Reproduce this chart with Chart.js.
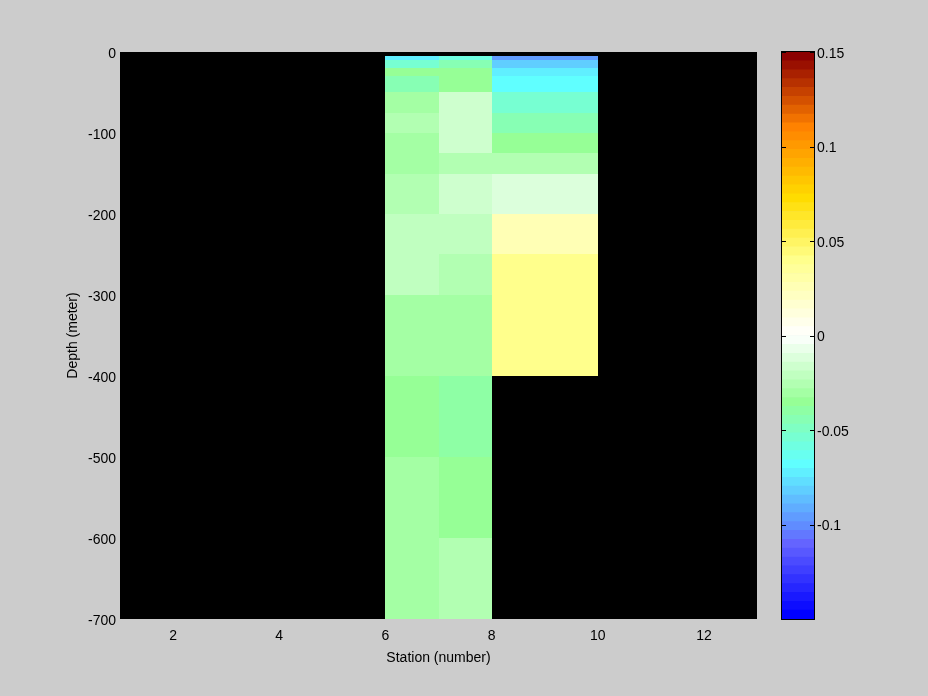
<!DOCTYPE html>
<html><head><meta charset="utf-8">
<script src="https://cdn.jsdelivr.net/npm/chart.js@4.4.1/dist/chart.umd.min.js"></script>
<style>
html,body{margin:0;padding:0;background:#cccccc;width:928px;height:696px;overflow:hidden}
#w1{position:absolute;left:0;top:0;width:770px;height:696px}
#w2{position:absolute;left:770px;top:0;width:158px;height:696px}
</style></head><body>
<div id="w1"><canvas id="c1"></canvas></div>
<div id="w2"><canvas id="c2"></canvas></div>
<script>
// ---- data ----
const stationEdges = [6, 7, 8, 10];                 // column boundaries (station number)
const depthEdges = [-5, -10, -20, -30, -50, -75, -100, -125, -150, -200, -250, -300, -400, -500, -600, -700];
// value per depth bin (15 bins, top to bottom) for each column
const colStation6to7 = [-0.074, -0.054, -0.035, -0.0445, -0.030, -0.026, -0.030, -0.031, -0.026, -0.021, -0.021, -0.030, -0.035, -0.031, -0.031];
const colStation7to8 = [-0.058, -0.0445, -0.035, -0.035, -0.016, -0.016, -0.016, -0.026, -0.016, -0.021, -0.026, -0.030, -0.041, -0.035, -0.026];
const colStation8to10 = [-0.096, -0.080, -0.0727, -0.068, -0.054, -0.043, -0.035, -0.026, -0.012, 0.0258, 0.040, 0.040, null, null, null];
const xTicks = [2, 4, 6, 8, 10, 12];
const yTicks = [0, -100, -200, -300, -400, -500, -600, -700];
const cbTicks = [0.15, 0.1, 0.05, 0, -0.05, -0.1];
const cbTickLabels = ['0.15', '0.1', '0.05', '0', '-0.05', '-0.1'];
const cRange = [-0.15, 0.15];
// colormap anchors (band index 0 = bottom, 63 = top)
const cmapIdx = [0, 8, 10, 17, 24, 31.5, 40, 47, 55, 63];
const cmapRGB = [[0,0,255],[100,100,255],[96,140,255],[96,255,255],[150,255,150],[255,255,255],[255,255,140],[255,220,0],[255,130,0],[140,0,0]];
const nColors = 64;

const columns = [colStation6to7, colStation7to8, colStation8to10];

function buildCmap() {
  const out = [];
  for (let i = 0; i < nColors; i++) {
    let k = 0;
    while (k < cmapIdx.length - 2 && i > cmapIdx[k + 1]) k++;
    const t = Math.max(0, Math.min(1, (i - cmapIdx[k]) / (cmapIdx[k + 1] - cmapIdx[k])));
    const a = cmapRGB[k], b = cmapRGB[k + 1];
    const c = a.map((v, j) => Math.round(v + (b[j] - v) * t));
    out.push('rgb(' + c.join(',') + ')');
  }
  return out;
}
const cmap = buildCmap();
function colorFor(v) {
  let i = Math.floor((v - cRange[0]) / (cRange[1] - cRange[0]) * nColors);
  i = Math.max(0, Math.min(nColors - 1, i));
  return cmap[i];
}

const FONT = {family: 'Liberation Sans, Arial, sans-serif', size: 14};
Chart.defaults.color = '#000';
Chart.defaults.font = FONT;

const cellPlugin = {
  id: 'cells',
  beforeDatasetsDraw(chart) {
    const {ctx, chartArea: a, scales: {x, y}} = chart;
    ctx.save();
    ctx.fillStyle = '#000';
    ctx.fillRect(a.left, a.top, a.right - a.left, a.bottom - a.top);
    columns.forEach((col, ci) => {
      const x0 = Math.round(x.getPixelForValue(stationEdges[ci]));
      const x1 = Math.round(x.getPixelForValue(stationEdges[ci + 1]));
      col.forEach((v, ri) => {
        if (v === null) return;
        const y0 = Math.round(y.getPixelForValue(depthEdges[ri]));
        const y1 = Math.round(y.getPixelForValue(depthEdges[ri + 1]));
        ctx.fillStyle = colorFor(v);
        ctx.fillRect(x0, y0, x1 - x0, y1 - y0);
      });
    });
    ctx.restore();
  }
};

new Chart(document.getElementById('c1'), {
  type: 'scatter',
  data: {datasets: [{data: []}]},
  options: {
    responsive: true, maintainAspectRatio: false, animation: false, devicePixelRatio: 1,
    layout: {padding: {left: 0, top: 52, right: 13, bottom: 0}},
    plugins: {legend: {display: false}, tooltip: {enabled: false}},
    scales: {
      x: {
        type: 'linear', min: 1, max: 13, position: 'bottom',
        grid: {display: false, drawTicks: false}, border: {display: false},
        afterBuildTicks: s => { s.ticks = xTicks.map(v => ({value: v})); },
        afterFit: s => { s.height = 77; },
        ticks: {padding: 9, maxRotation: 0, autoSkip: false, callback: v => String(v), font: FONT},
        title: {display: true, text: 'Station (number)', font: FONT, padding: {top: 0, bottom: 29}}
      },
      y: {
        type: 'linear', min: -700, max: 0, position: 'left',
        grid: {display: false, drawTicks: false}, border: {display: false},
        afterBuildTicks: s => { s.ticks = yTicks.map(v => ({value: v})); },
        afterFit: s => { s.width = 120; },
        ticks: {padding: 4, labelOffset: 2, autoSkip: false, callback: v => String(v), font: FONT},
        title: {display: true, text: 'Depth (meter)', font: FONT, padding: {top: 65, bottom: 0}}
      }
    }
  },
  plugins: [cellPlugin]
});

// ---- colorbar ----
const step = (cRange[1] - cRange[0]) / nColors;
const cbDatasets = cmap.map((c, i) => ({
  data: [[cRange[0] + i * step, cRange[0] + (i + 1) * step]],
  backgroundColor: c, borderWidth: 0, grouped: false,
  barPercentage: 1, categoryPercentage: 1
}));

const cbFrame = {
  id: 'cbFrame',
  afterDatasetsDraw(chart) {
    const {ctx, chartArea: a, scales: {y}} = chart;
    ctx.save();
    ctx.strokeStyle = '#000';
    ctx.lineWidth = 1;
    ctx.strokeRect(a.left - 0.5, a.top - 0.5, a.right - a.left + 1, a.bottom - a.top + 1);
    ctx.beginPath();
    cbTicks.forEach(v => {
      const py = Math.round(y.getPixelForValue(v)) + 0.5;
      ctx.moveTo(a.left, py); ctx.lineTo(a.left + 4, py);
      ctx.moveTo(a.right - 4, py); ctx.lineTo(a.right, py);
    });
    ctx.stroke();
    ctx.restore();
  }
};

new Chart(document.getElementById('c2'), {
  type: 'bar',
  data: {labels: ['cb'], datasets: cbDatasets},
  options: {
    responsive: true, maintainAspectRatio: false, animation: false, devicePixelRatio: 1,
    layout: {padding: {left: 12, top: 52, right: 0, bottom: 77}},
    plugins: {legend: {display: false}, tooltip: {enabled: false}},
    scales: {
      x: {display: false},
      y: {
        type: 'linear', min: cRange[0], max: cRange[1], position: 'right',
        grid: {display: false, drawTicks: false}, border: {display: false},
        afterBuildTicks: s => { s.ticks = cbTicks.map(v => ({value: v})); },
        afterFit: s => { s.width = 114; },
        ticks: {padding: 3, labelOffset: 2, autoSkip: false, font: FONT,
          callback: (v, i) => cbTickLabels[i]}
      }
    }
  },
  plugins: [cbFrame]
});
</script>
</body></html>
